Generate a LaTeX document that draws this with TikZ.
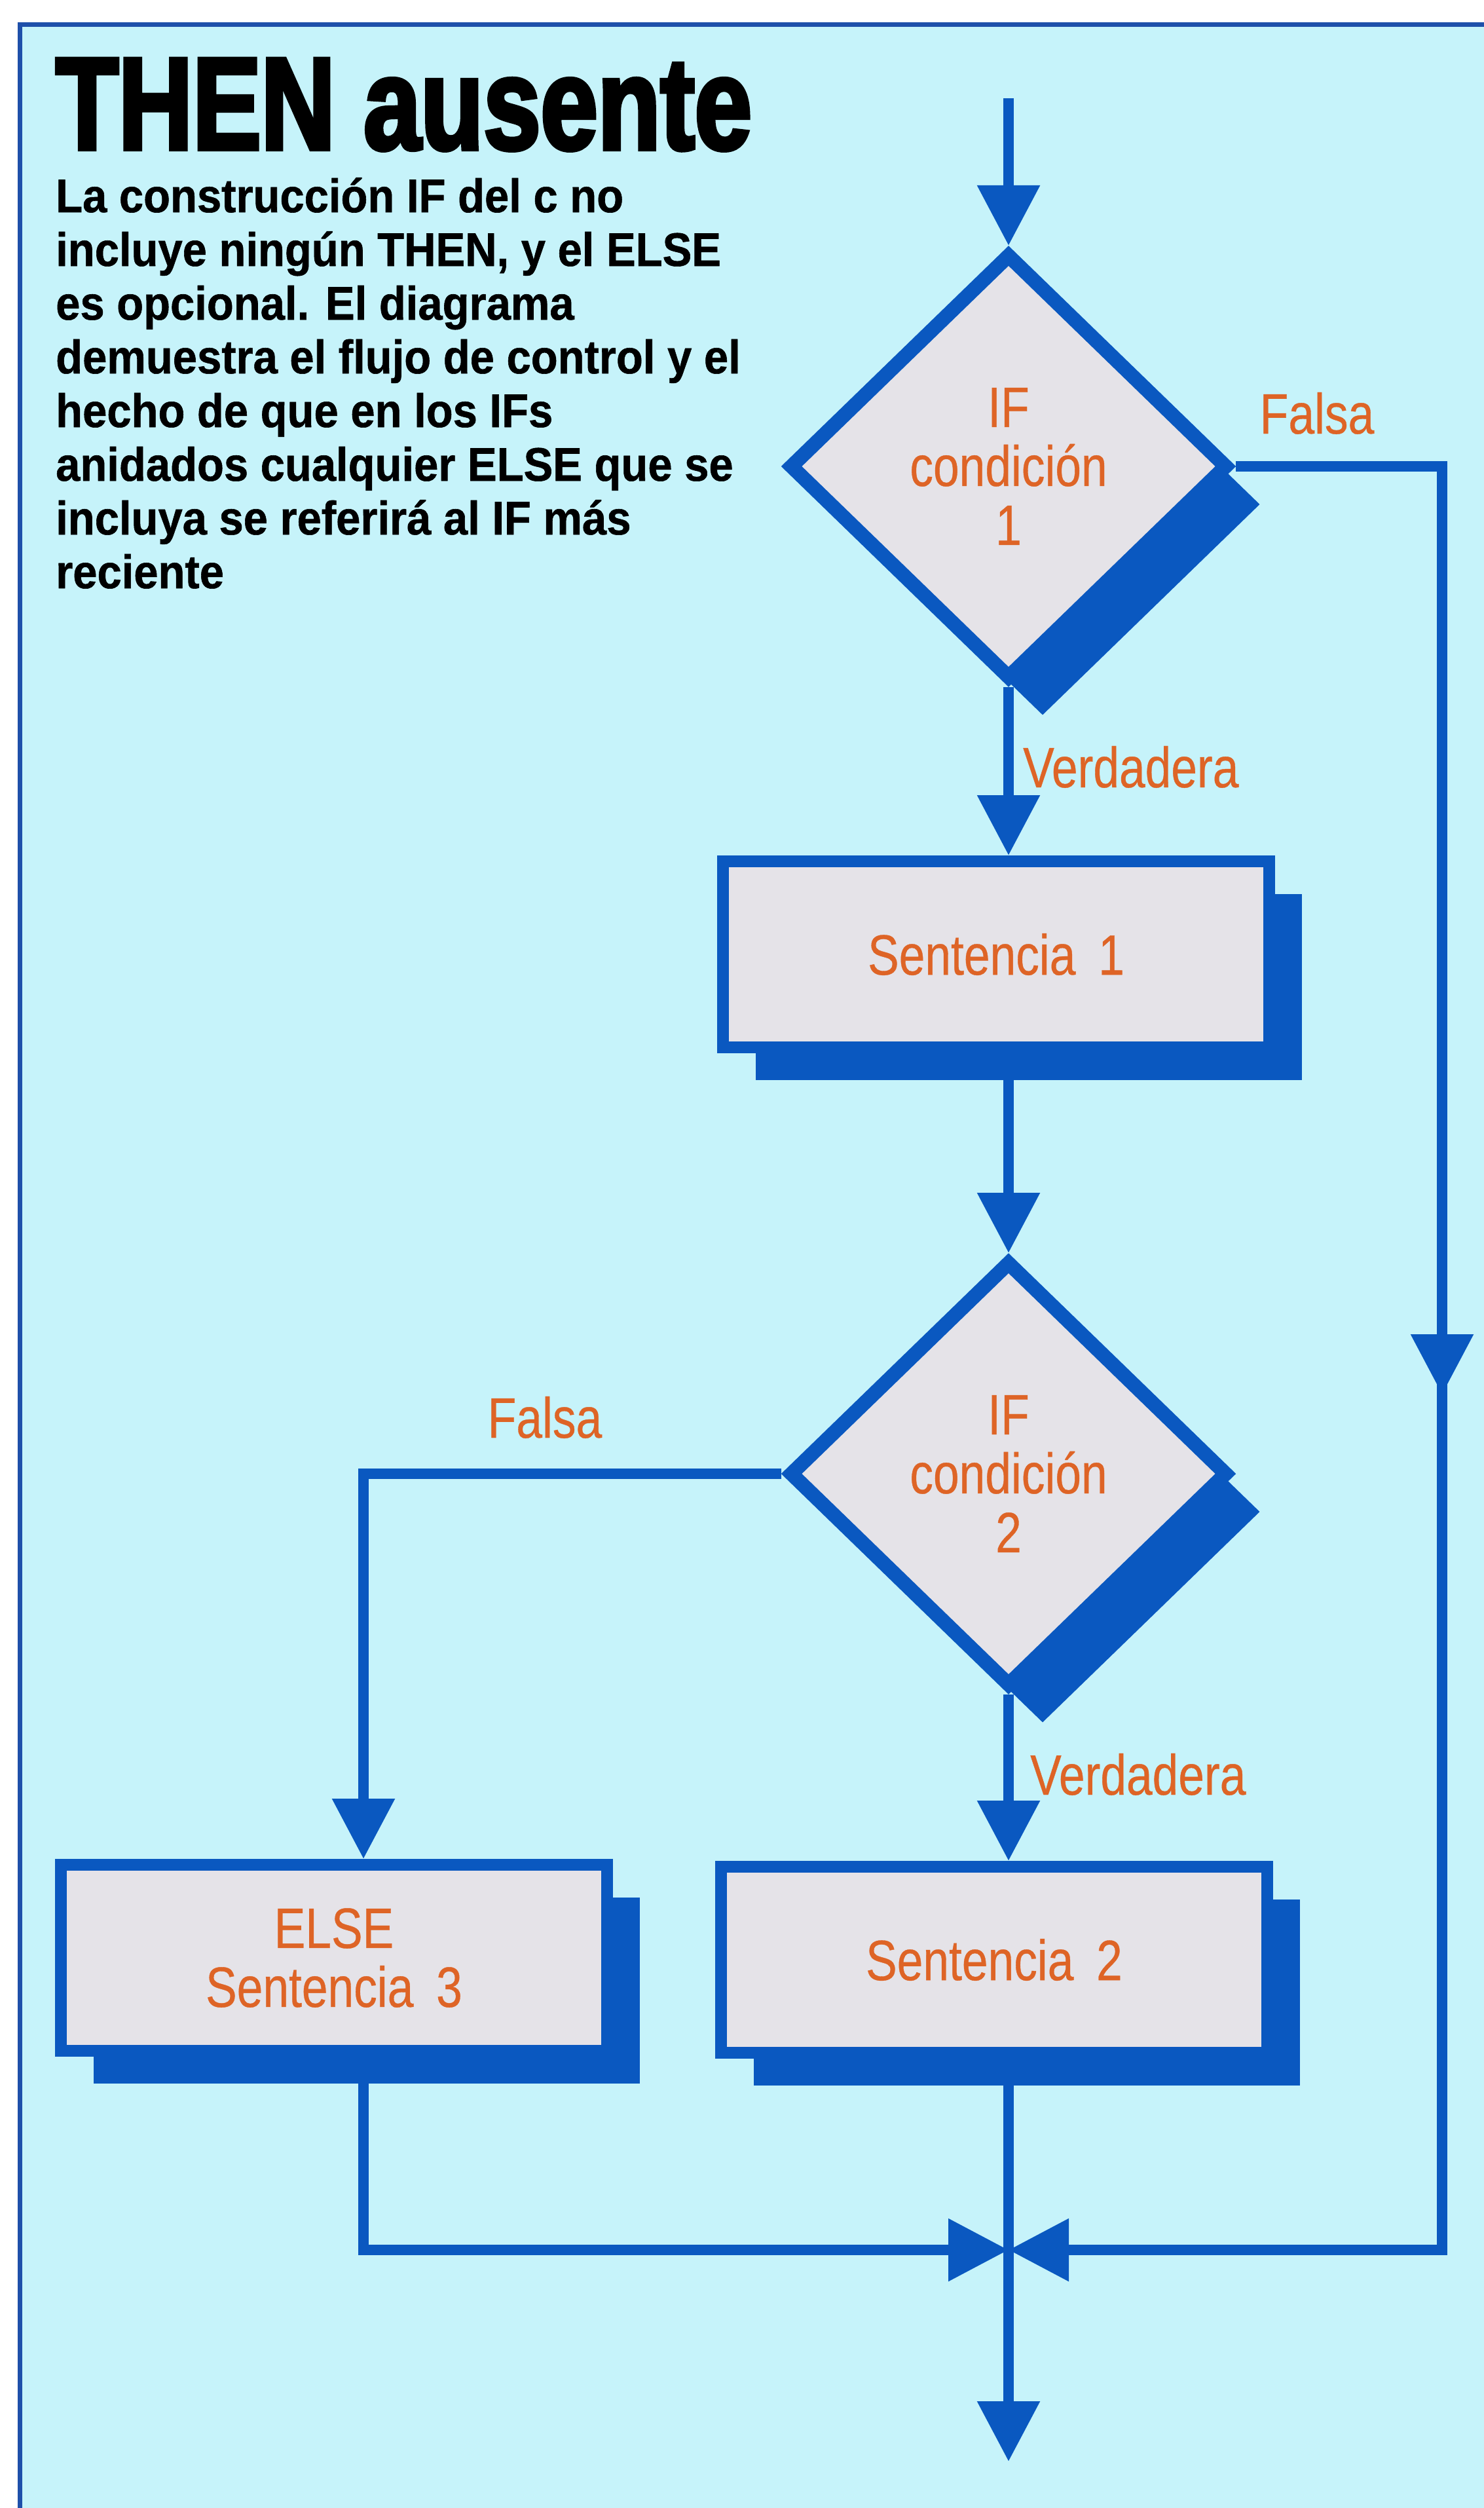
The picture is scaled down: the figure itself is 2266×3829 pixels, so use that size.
\documentclass[tikz,border=0pt]{standalone}
\usepackage{fontspec}
\setmainfont{Liberation Sans}
\newfontfamily\titlefont{Liberation Sans}[FakeStretch=0.78,FakeBold=3]
\newfontfamily\parafont{Liberation Sans}[FakeStretch=0.93,FakeBold=0.8]
\newfontfamily\orfont{Liberation Sans}[FakeStretch=0.82,FakeBold=0.4]
\usetikzlibrary{arrows.meta,shapes.geometric,shadows}
\definecolor{bgcyan}{RGB}{198,243,250}
\definecolor{fblue}{RGB}{10,88,192}
\definecolor{frameblue}{RGB}{30,80,170}
\definecolor{boxgray}{RGB}{229,227,232}
\definecolor{orangetxt}{RGB}{222,100,38}
\begin{document}
\begin{tikzpicture}[x=1pt,y=-1pt,
  conn/.style={draw=fblue,line width=16pt,-{Triangle[length=92pt 0 0,width=92pt 0 0]}},
  plain/.style={draw=fblue,line width=16pt},
  ortext/.style={text=orangetxt,font=\orfont\fontsize{87}{90}\selectfont},
  stmt/.style={rectangle,draw=fblue,line width=18pt,fill=boxgray,minimum width=834pt,minimum height=284pt,inner sep=0pt,align=center,ortext,
    drop shadow={shadow xshift=50pt,shadow yshift=-50pt,fill=fblue,opacity=1}},
  cond/.style={diamond,draw=fblue,line width=22pt,fill=boxgray,minimum width=672pt,minimum height=652pt,inner sep=0pt,align=center,ortext,
    drop shadow={shadow xshift=52pt,shadow yshift=-58pt,fill=fblue,opacity=1}},
  lbl/.style={ortext,inner sep=0pt},
  titletext/.style={inner sep=0pt,text=black,font=\titlefont\bfseries\fontsize{201}{220}\selectfont},
  paratext/.style={inner sep=0pt,text=black,font=\parafont\bfseries\fontsize{72}{82}\selectfont}]
\useasboundingbox (0,0) rectangle (2266,3829);
% panel
\fill[bgcyan] (30,38) rectangle (2266,3829);
\draw[frameblue,line width=7pt] (30,3829) -- (30,38) -- (2266,38);
% heading and text
\node[titletext,anchor=base west] (title) at (85,228) {THEN ausente};
\node[paratext,anchor=base west] (p1) at (85,324) {La construcción IF del c no};
\node[paratext,anchor=base west] (p2) at (85,406) {incluye ningún THEN, y el ELSE};
\node[paratext,anchor=base west] (p3) at (85,488) {es opcional. El diagrama};
\node[paratext,anchor=base west] (p4) at (85,570) {demuestra el flujo de control y el};
\node[paratext,anchor=base west] (p5) at (85,652) {hecho de que en los IFs};
\node[paratext,anchor=base west] (p6) at (85,734) {anidados cualquier ELSE que se};
\node[paratext,anchor=base west] (p7) at (85,816) {incluya se referirá al IF más};
\node[paratext,anchor=base west] (p8) at (85,898) {reciente};
% flowchart nodes
\node[cond] (d1) at (1540,712) {IF\\condición\\1};
\node[stmt] (b1) at (1521,1457) {Sentencia\hspace{0.4em}1};
\node[cond] (d2) at (1540,2250) {IF\\condición\\2};
\node[stmt] (b2) at (1518,2992) {Sentencia\hspace{0.4em}2};
\node[stmt] (b3) at (510,2989) {ELSE\\Sentencia\hspace{0.4em}3};
% coordinates
\coordinate (top) at (1540,150);
\coordinate (rmid) at (2202,2129);
\coordinate (j) at (1540,3435);
\coordinate (endp) at (1540,3758);
% connectors
\draw[conn] (top) -- (d1.north);
\draw[conn] (d1.south) -- (d1.south |- b1.north);
\draw[conn] (d2.north |- b1.south) -- (d2.north);
\draw[conn] (d2.south) -- (d2.south |- b2.north);
\draw[conn] (d2.west) -| ([xshift=45pt]b3.north);
\draw[conn] (d1.east) -| (rmid);
\draw[plain] ([yshift=60pt]rmid) -- (rmid);
\draw[conn] (rmid) |- (j);
\draw[conn] ([xshift=45pt]b3.south) |- (j);
\draw[conn] (d2.south |- b2.south) -- (endp);
% labels
\node[lbl,anchor=base] (lf1) at (2011,662) {Falsa};
\node[lbl,anchor=base west] (lv1) at (1562,1202) {Verdadera};
\node[lbl,anchor=base] (lf2) at (832,2195) {Falsa};
\node[lbl,anchor=base west] (lv2) at (1573,2740) {Verdadera};
\end{tikzpicture}
\end{document}
